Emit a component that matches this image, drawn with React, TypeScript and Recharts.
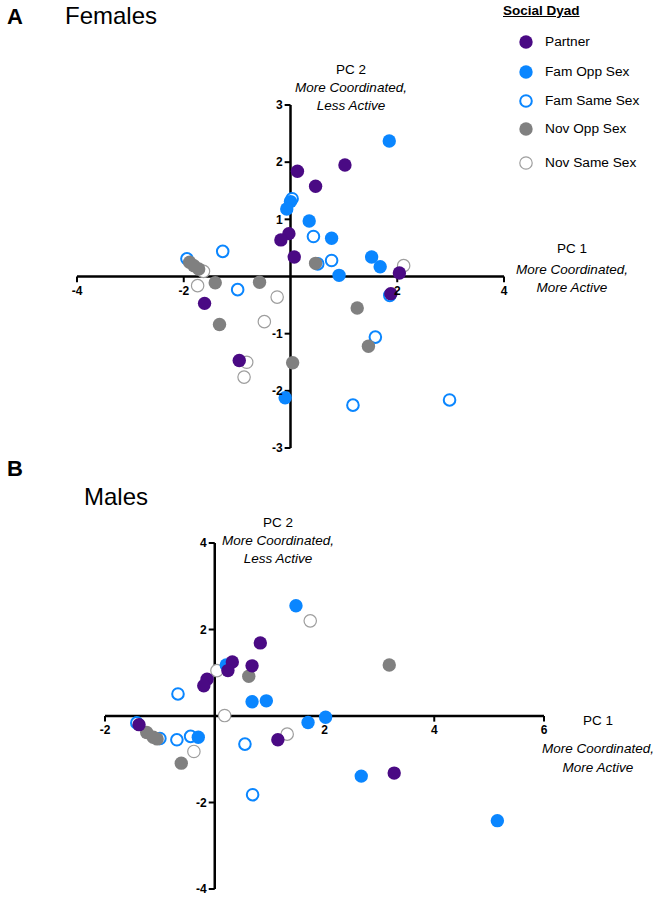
import { ReferenceLine, Scatter, ScatterChart, XAxis, YAxis } from "recharts";

type Pt = { x: number; y: number };

const PURPLE = "#4a0a84";
const BLUE = "#0a86ff";
const GRAY = "#808080";
const LIGHT = "#9e9e9e";
const FONT = "'Liberation Sans', Arial, sans-serif";

// Females panel
const femPartner: Pt[] = [
  { x: 0.13, y: 1.84 }, { x: 1.02, y: 1.95 }, { x: 0.47, y: 1.58 }, { x: -0.03, y: 0.75 },
  { x: -0.18, y: 0.64 }, { x: 0.07, y: 0.34 }, { x: 2.04, y: 0.06 }, { x: 1.88, y: -0.3 },
  { x: -1.61, y: -0.47 }, { x: -0.96, y: -1.47 },
];
const femFamOpp: Pt[] = [
  { x: 1.85, y: 2.37 }, { x: 0.0, y: 1.31 }, { x: -0.07, y: 1.18 }, { x: 0.35, y: 0.97 },
  { x: 0.77, y: 0.67 }, { x: 0.91, y: 0.02 }, { x: 1.52, y: 0.34 }, { x: 1.68, y: 0.17 },
  { x: -0.1, y: -2.12 },
];
const femFamSame: Pt[] = [
  { x: 0.03, y: 1.36 }, { x: 0.43, y: 0.7 }, { x: 0.51, y: 0.22 }, { x: 0.77, y: 0.28 },
  { x: -1.27, y: 0.44 }, { x: -1.94, y: 0.31 }, { x: -0.99, y: -0.23 }, { x: 1.86, y: -0.33 },
  { x: 1.59, y: -1.06 }, { x: 1.17, y: -2.25 }, { x: 2.98, y: -2.16 },
];
const femNovOpp: Pt[] = [
  { x: -1.89, y: 0.25 }, { x: -1.81, y: 0.19 }, { x: -1.72, y: 0.13 }, { x: -1.41, y: -0.11 },
  { x: -0.58, y: -0.1 }, { x: 0.47, y: 0.23 }, { x: 1.25, y: -0.55 }, { x: 1.46, y: -1.22 },
  { x: -1.33, y: -0.84 }, { x: 0.04, y: -1.51 },
];
const femNovSame: Pt[] = [
  { x: -1.63, y: 0.09 }, { x: -1.74, y: -0.16 }, { x: -0.25, y: -0.36 }, { x: 2.12, y: 0.19 },
  { x: -0.49, y: -0.79 }, { x: -0.82, y: -1.5 }, { x: -0.87, y: -1.76 },
];

// Males panel
const malPartner: Pt[] = [
  { x: 0.83, y: 1.69 }, { x: 0.32, y: 1.25 }, { x: 0.24, y: 1.05 }, { x: 0.68, y: 1.16 },
  { x: -0.14, y: 0.85 }, { x: -0.2, y: 0.7 }, { x: -1.38, y: -0.2 }, { x: 1.15, y: -0.55 },
  { x: 3.27, y: -1.32 },
];
const malFamOpp: Pt[] = [
  { x: 1.48, y: 2.55 }, { x: 0.21, y: 1.18 }, { x: 0.68, y: 0.33 }, { x: 0.94, y: 0.35 },
  { x: 1.7, y: -0.15 }, { x: 2.02, y: -0.03 }, { x: -0.3, y: -0.49 }, { x: 2.67, y: -1.39 },
  { x: 5.15, y: -2.42 },
];
const malFamSame: Pt[] = [
  { x: -0.67, y: 0.51 }, { x: -1.42, y: -0.16 }, { x: -1.0, y: -0.52 }, { x: -0.69, y: -0.55 },
  { x: -0.44, y: -0.47 }, { x: 0.55, y: -0.65 }, { x: 0.69, y: -1.82 },
];
const malNovOpp: Pt[] = [
  { x: 0.62, y: 0.92 }, { x: -1.24, y: -0.38 }, { x: -1.12, y: -0.49 }, { x: -1.05, y: -0.53 },
  { x: -0.61, y: -1.09 }, { x: 3.18, y: 1.18 },
];
const malNovSame: Pt[] = [
  { x: 0.04, y: 1.05 }, { x: 0.18, y: 0.01 }, { x: -0.38, y: -0.82 }, { x: 1.32, y: -0.42 },
  { x: 1.74, y: 2.2 },
];

const femXTicks = [-4, -2, 2, 4];
const femYTicks = [3, 2, 1, -1, -2, -3];
const malXTicks = [-2, 2, 4, 6];
const malYTicks = [4, 2, -2, -4];

const legendNames = ["Partner", "Fam Opp Sex", "Fam Same Sex", "Nov Opp Sex", "Nov Same Sex"];

const styles: Record<string, { fill: string; stroke: string; sw: number; r: number }> = {
  "Partner": { fill: PURPLE, stroke: "none", sw: 0, r: 6.7 },
  "Fam Opp Sex": { fill: BLUE, stroke: "none", sw: 0, r: 6.7 },
  "Fam Same Sex": { fill: "#fff", stroke: BLUE, sw: 2, r: 5.8 },
  "Nov Opp Sex": { fill: GRAY, stroke: "none", sw: 0, r: 6.7 },
  "Nov Same Sex": { fill: "#fff", stroke: LIGHT, sw: 1.2, r: 6.2 },
};

const dot = (name: string) => (p: any) => {
  const s = styles[name];
  return <circle cx={p.cx} cy={p.cy} r={s.r} fill={s.fill} stroke={s.stroke} strokeWidth={s.sw} />;
};

const tickLabel = { fontSize: 12, fontWeight: "bold", fill: "#000", fontFamily: FONT };

function axes(xTicks: number[], yTicks: number[], xLen: number, yLen: number) {
  return [
    <ReferenceLine key="h" y={0} stroke="#000" strokeWidth={2.5} />,
    <ReferenceLine key="v" x={0} stroke="#000" strokeWidth={2.5} />,
    ...xTicks.map((t) => (
      <ReferenceLine
        key={"xt" + t}
        segment={[{ x: t, y: 0 }, { x: t, y: -yLen }]}
        stroke="#000"
        strokeWidth={2}
        label={{ value: String(t), position: "bottom", offset: 4, ...tickLabel }}
      />
    )),
    ...yTicks.map((t) => (
      <ReferenceLine
        key={"yt" + t}
        segment={[{ x: 0, y: t }, { x: -xLen, y: t }]}
        stroke="#000"
        strokeWidth={2}
        label={{ value: String(t), position: "left", offset: 2, ...tickLabel }}
      />
    )),
  ];
}

function Panel(props: {
  data: Pt[][];
  xDomain: [number, number];
  yDomain: [number, number];
  xTicks: number[];
  yTicks: number[];
  xLen: number;
  yLen: number;
  width: number;
  height: number;
  margin: { top: number; right: number; bottom: number; left: number };
}) {
  // draw order: open markers first, partner on top
  const order = [2, 4, 1, 3, 0];
  return (
    <ScatterChart width={props.width} height={props.height} margin={props.margin}>
      <XAxis type="number" dataKey="x" domain={props.xDomain} hide allowDataOverflow />
      <YAxis type="number" dataKey="y" domain={props.yDomain} hide allowDataOverflow width={0} />
      {axes(props.xTicks, props.yTicks, props.xLen, props.yLen)}
      {order.map((i) => (
        <Scatter
          key={legendNames[i]}
          name={legendNames[i]}
          data={props.data[i]}
          shape={dot(legendNames[i])}
          isAnimationActive={false}
        />
      ))}
    </ScatterChart>
  );
}

const abs = (left: number, top: number, extra: any = {}) => ({
  position: "absolute" as const,
  left,
  top,
  fontFamily: FONT,
  whiteSpace: "nowrap" as const,
  lineHeight: 1,
  ...extra,
});

function Title({ cx, cy, head, lines, gap = 0, lh = 18 }: { cx: number; cy: number; head: string; lines: string[]; gap?: number; lh?: number }) {
  return (
    <div style={abs(cx, cy, { transform: "translateX(-50%)", textAlign: "center", fontSize: 13.5, lineHeight: lh + "px" })}>
      <div style={{ marginBottom: gap }}>{head}</div>
      {lines.map((l) => (
        <div key={l} style={{ fontStyle: "italic" }}>{l}</div>
      ))}
    </div>
  );
}

export default function App() {
  return (
    <div style={{ position: "absolute", left: 0, top: 0, width: 659, height: 900, background: "#fff" }}>
      <div style={{ position: "absolute", left: 0, top: 0 }}>
        <Panel
          data={[femPartner, femFamOpp, femFamSame, femNovOpp, femNovSame]}
          xDomain={[-4, 4]}
          yDomain={[-3, 3]}
          xTicks={femXTicks}
          yTicks={femYTicks}
          xLen={0.11}
          yLen={0.1}
          width={659}
          height={470}
          margin={{ top: 105, right: 155, bottom: 22, left: 77 }}
        />
      </div>
      <div style={{ position: "absolute", left: 0, top: 470 }}>
        <Panel
          data={[malPartner, malFamOpp, malFamSame, malNovOpp, malNovSame]}
          xDomain={[-2, 6]}
          yDomain={[-4, 4]}
          xTicks={malXTicks}
          yTicks={malYTicks}
          xLen={0.11}
          yLen={0.13}
          width={659}
          height={430}
          margin={{ top: 73, right: 115, bottom: 11, left: 105 }}
        />
      </div>

      <div style={abs(7, 6, { fontSize: 22, fontWeight: "bold" })}>A</div>
      <div style={abs(65, 4, { fontSize: 24 })}>Females</div>
      <div style={abs(7, 458, { fontSize: 22, fontWeight: "bold" })}>B</div>
      <div style={abs(84, 485, { fontSize: 24 })}>Males</div>

      <Title cx={351} cy={61} head="PC 2" lines={["More Coordinated,", "Less Active"]} />
      <Title cx={572} cy={240} head="PC 1" lines={["More Coordinated,", "More Active"]} gap={3} />
      <Title cx={278} cy={514} head="PC 2" lines={["More Coordinated,", "Less Active"]} />
      <Title cx={598} cy={711} head="PC 1" lines={["More Coordinated,", "More Active"]} gap={9} lh={19} />

      <div style={abs(503, 4, { fontSize: 13.5, fontWeight: "bold", textDecoration: "underline" })}>Social Dyad</div>
      {legendNames.map((n, i) => {
        const s = styles[n];
        const cy = [42, 72, 101, 129, 163][i];
        return (
          <div key={n}>
            <svg style={{ position: "absolute", left: 517, top: cy - 9 }} width={18} height={18}>
              <circle cx={9} cy={9} r={s.r} fill={s.fill} stroke={s.stroke} strokeWidth={s.sw} />
            </svg>
            <div style={abs(545, cy - 7, { fontSize: 13.7 })}>{n}</div>
          </div>
        );
      })}
    </div>
  );
}
